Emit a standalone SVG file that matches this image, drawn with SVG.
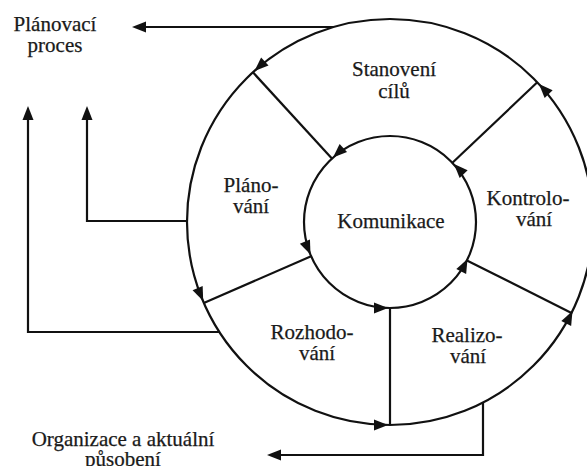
<svg xmlns="http://www.w3.org/2000/svg" xmlns:xlink="http://www.w3.org/1999/xlink" width="587" height="466" viewBox="0 0 587 466">
  <style>
    .ln { fill: none; stroke: #111; stroke-width: 2.2; stroke-linejoin: miter; }
    .ah { fill: #111; }
    text { font-family: "Liberation Serif", "Times New Roman", serif; font-size: 21px; fill: #1a1a1a; stroke: #1a1a1a; stroke-width: 0.25; text-anchor: middle; }
  </style>
  <defs>
    <!-- arrowhead pointing along +x, tip at the origin -->
    <path id="ah" d="M0,0 L-14,-5.5 L-14,5.5 Z"/>
  </defs>
  <rect width="587" height="466" fill="#fff"/>

  <g id="connectors">
    <!-- outer cycle and inner hub -->
    <circle class="ln" cx="390" cy="222" r="203"/>
    <circle class="ln" cx="390" cy="222" r="86"/>
    <!-- spokes between ring and hub -->
    <line class="ln" x1="252.9" y1="72.3" x2="331.9" y2="158.6"/>
    <line class="ln" x1="203.8" y1="302.9" x2="311.1" y2="256.3"/>
    <line class="ln" x1="390" y1="425" x2="390" y2="308"/>
    <line class="ln" x1="571.5" y1="312.9" x2="466.9" y2="260.5"/>
    <line class="ln" x1="537.3" y1="82.3" x2="452.4" y2="162.8"/>
    <!-- outer ring arrows (counter-clockwise) -->
    <g class="ah">
      <use xlink:href="#ah" transform="translate(254.5,71) rotate(137.5)"/>
      <use xlink:href="#ah" transform="translate(203.2,301) rotate(66.5)"/>
      <use xlink:href="#ah" transform="translate(388,425) rotate(0)"/>
      <use xlink:href="#ah" transform="translate(572.5,311) rotate(-63.4)"/>
      <use xlink:href="#ah" transform="translate(539,84) rotate(-133.5)"/>
      <!-- inner hub arrows -->
      <use xlink:href="#ah" transform="translate(333,157.5) rotate(137.5)"/>
      <use xlink:href="#ah" transform="translate(310.5,254.5) rotate(66.5)"/>
      <use xlink:href="#ah" transform="translate(388,308) rotate(0)"/>
      <use xlink:href="#ah" transform="translate(467.5,259) rotate(-63.4)"/>
      <use xlink:href="#ah" transform="translate(454,164) rotate(-133.5)"/>
    </g>
    <!-- feedback to the planning process -->
    <polyline class="ln" points="334,27 140,27"/>
    <use class="ah" xlink:href="#ah" transform="translate(132,27) rotate(180)"/>
    <polyline class="ln" points="219.4,332 28,332 28,114"/>
    <use class="ah" xlink:href="#ah" transform="translate(28,106) rotate(-90)"/>
    <polyline class="ln" points="187,221 87,221 87,114"/>
    <use class="ah" xlink:href="#ah" transform="translate(87,106) rotate(-90)"/>
    <!-- output to organisation -->
    <polyline class="ln" points="483,402.4 483,455 275,455"/>
    <use class="ah" xlink:href="#ah" transform="translate(267,455) rotate(180)"/>
  </g>

  <g id="planovaci-proces">
    <text x="55" y="31">Plánovací</text>
    <text x="55" y="52">proces</text>
  </g>
  <g id="stanoveni-cilu">
    <text x="394" y="76">Stanovení</text>
    <text x="394" y="98">cílů</text>
  </g>
  <g id="planovani">
    <text x="251" y="192">Pláno-</text>
    <text x="251" y="213">vání</text>
  </g>
  <g id="komunikace">
    <text x="391" y="228">Komunikace</text>
  </g>
  <g id="kontrolovani">
    <text x="528" y="205">Kontrolo-</text>
    <text x="534" y="226">vání</text>
  </g>
  <g id="rozhodovani">
    <text x="312" y="339">Rozhodo-</text>
    <text x="317" y="360">vání</text>
  </g>
  <g id="realizovani">
    <text x="467" y="342">Realizo-</text>
    <text x="468" y="363">vání</text>
  </g>
  <g id="organizace">
    <text x="123" y="446">Organizace a aktuální</text>
    <text x="123" y="466">působení</text>
  </g>
</svg>
